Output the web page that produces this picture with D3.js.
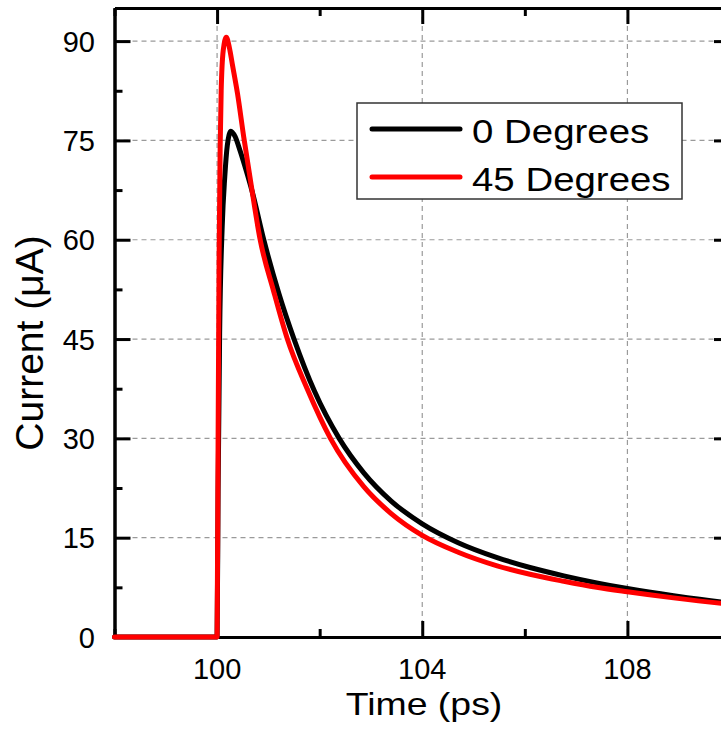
<!DOCTYPE html>
<html><head><meta charset="utf-8">
<script src="https://cdn.jsdelivr.net/npm/d3@7"></script>
<style>html,body{margin:0;padding:0;background:#fff;overflow:hidden}svg{display:block}text{font-family:"Liberation Sans",Arial,sans-serif;fill:#000}</style>
</head><body><svg id="c" width="721" height="735"></svg>
<script>
// Data
const seriesNames = ["0 Degrees", "45 Degrees"];
const seriesColors = ["#000000", "#ff0000"];
const time0 = [98, 100, 100.02, 100.05, 100.1, 100.15, 100.2, 100.27, 100.35, 100.45, 100.55, 100.68, 100.91, 101.2, 101.5, 101.9, 102.38, 102.86, 103.4, 104, 104.7, 105.46, 106.1, 106.76, 107.4, 108, 108.9, 109.83, 110];
const current0 = [0, 0, 22, 46, 62, 69.5, 74.3, 76.4, 75.6, 73.4, 70.9, 67.4, 60, 52, 45, 37.1, 30, 24.8, 20.5, 17.1, 14.25, 12.0, 10.5, 9.24, 8.18, 7.32, 6.23, 5.29, 5.15];
const time45 = [98, 100, 100.02, 100.04, 100.06, 100.08, 100.12, 100.18, 100.24, 100.3, 100.4, 100.52, 100.65, 100.84, 101.1, 101.37, 101.75, 102.21, 102.86, 103.4, 104, 104.7, 105.46, 106.1, 106.76, 107.4, 108, 108.9, 109.83, 110];
const current45 = [0, 0, 30, 58, 74, 82.5, 88.6, 90.6, 89, 86.4, 82, 75.5, 69, 60, 52.3, 45, 37.6, 30, 22.7, 18.6, 15.35, 12.8, 10.75, 9.47, 8.42, 7.51, 6.83, 5.91, 5.1, 4.97];
const xMajorTicks = [100, 104, 108];
const xMinorTicks = [98, 102, 106, 110];
const yMajorTicks = [0, 15, 30, 45, 60, 75, 90];
const yMinorTicks = [7.5, 22.5, 37.5, 52.5, 67.5, 82.5];
const xTitle = "Time (ps)";
const yTitle = "Current (\u03bcA)";

const svg = d3.select("#c");
const x = d3.scaleLinear().domain([98, 110]).range([114.5, 730]);
const y = d3.scaleLinear().domain([0, 95]).range([637, 8]);
const L = x.range()[0], R = x.range()[1], B = y.range()[0], T = y.range()[1];

// grid
const g = svg.append("g");
g.selectAll("line.gx").data(xMajorTicks).join("line")
  .attr("x1", d => x(d)).attr("x2", d => x(d)).attr("y1", T).attr("y2", B)
  .attr("stroke", "#9a9a9a").attr("stroke-width", 1.2).attr("stroke-dasharray", "5,4");
g.selectAll("line.gy").data(yMajorTicks.filter(d => d > 0)).join("line")
  .attr("y1", d => y(d)).attr("y2", d => y(d)).attr("x1", L).attr("x2", R)
  .attr("stroke", "#9a9a9a").attr("stroke-width", 1.2).attr("stroke-dasharray", "5,4");

// axes
function ax(gen, tr, vals, size) {
  svg.append("g").attr("transform", tr)
    .call(gen.tickValues(vals).tickSize(size).tickSizeOuter(0).tickFormat(""))
    .call(s => { s.select(".domain").attr("stroke", "#000").attr("stroke-width", 3);
                 s.selectAll(".tick line").attr("stroke", "#000").attr("stroke-width", 3); });
}
ax(d3.axisTop(x), `translate(0,${B})`, xMajorTicks, 16);
ax(d3.axisTop(x), `translate(0,${B})`, xMinorTicks, 8);
ax(d3.axisBottom(x), `translate(0,${T})`, xMajorTicks, 16);
ax(d3.axisBottom(x), `translate(0,${T})`, xMinorTicks, 8);
ax(d3.axisRight(y), `translate(${L},0)`, yMajorTicks, 16);
ax(d3.axisRight(y), `translate(${L},0)`, yMinorTicks, 8);
ax(d3.axisLeft(y), `translate(${R},0)`, yMajorTicks, 16);
ax(d3.axisLeft(y), `translate(${R},0)`, yMinorTicks, 8);

// tick labels
svg.append("g").selectAll("text").data(xMajorTicks).join("text")
  .attr("x", d => x(d)).attr("y", 679).attr("text-anchor", "middle")
  .attr("font-size", 29).text(d => d);
svg.append("g").selectAll("text").data(yMajorTicks).join("text")
  .attr("x", 95).attr("y", d => y(d) + 10.5).attr("text-anchor", "end")
  .attr("font-size", 29).text(d => d);

// titles
svg.append("text").attr("transform", `translate(424,715) scale(1.17,1)`)
  .attr("text-anchor", "middle").attr("font-size", 32).text(xTitle);
svg.append("text").attr("transform", `translate(43,343) rotate(-90)`)
  .attr("text-anchor", "middle").attr("font-size", 39).text(yTitle);

// curves
const line = d3.line().x(d => x(d[0])).y(d => y(d[1])).curve(d3.curveMonotoneX);
const data = [d3.zip(time0, current0), d3.zip(time45, current45)];
svg.append("g").selectAll("path").data(data).join("path")
  .attr("d", line).attr("fill", "none")
  .attr("stroke", (d, i) => seriesColors[i]).attr("stroke-width", 5)
  .attr("stroke-linejoin", "round").attr("stroke-linecap", "round");

// legend
const lg = svg.append("g");
lg.append("rect").attr("x", 357).attr("y", 103).attr("width", 325).attr("height", 96)
  .attr("fill", "#fff").attr("stroke", "#333").attr("stroke-width", 1.5);
seriesNames.forEach((n, i) => {
  const yy = 129 + i * 48;
  lg.append("line").attr("x1", 372).attr("x2", 460).attr("y1", yy).attr("y2", yy)
    .attr("stroke", seriesColors[i]).attr("stroke-width", 5).attr("stroke-linecap", "round");
  lg.append("text").attr("transform", `translate(472,${yy + 13.5}) scale(1.13,1)`)
    .attr("font-size", 34).text(n);
});
</script></body></html>
